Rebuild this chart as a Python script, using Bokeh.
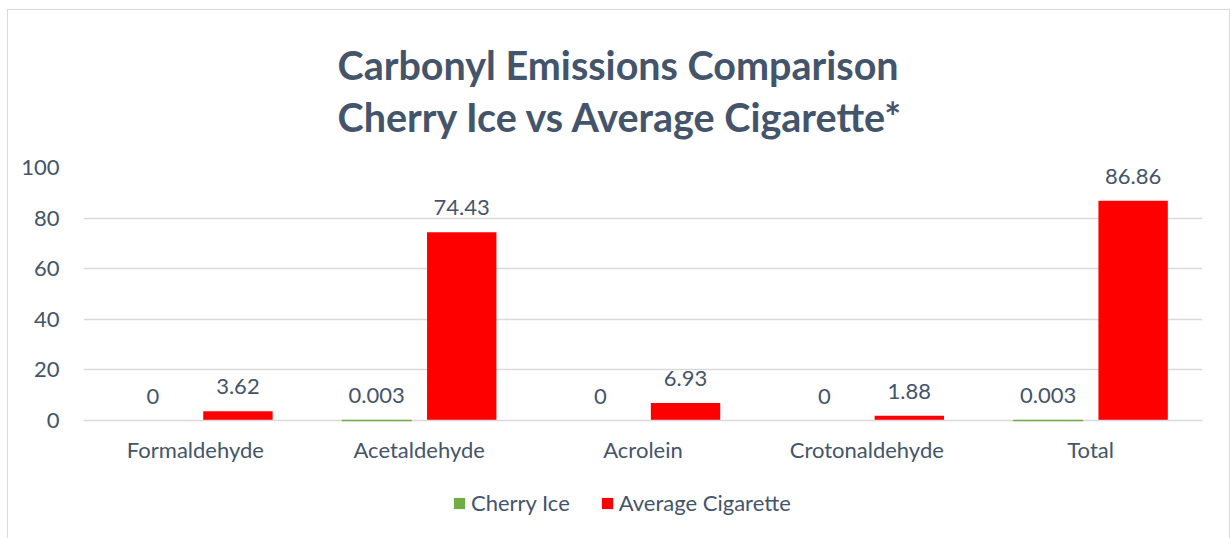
from bokeh.plotting import figure
from bokeh.layouts import column
from bokeh.models import ColumnDataSource, FactorRange, Legend, LegendItem, LabelSet, FixedTicker, Range1d
from bokeh.core.properties import value
from bokeh.transform import dodge
from bokeh.embed import file_html
from bokeh.resources import INLINE

categories = ["Formaldehyde", "Acetaldehyde", "Acrolein", "Crotonaldehyde", "Total"]
cherry_ice = [0, 0.003, 0, 0, 0.003]
avg_cig = [3.62, 74.43, 6.93, 1.88, 86.86]
cherry_labels = ["0", "0.003", "0", "0", "0.003"]
cig_labels = ["3.62", "74.43", "6.93", "1.88", "86.86"]
series_names = ["Cherry Ice", "Average Cigarette"]
y_ticks = [0, 20, 40, 60, 80, 100]

FONT = "Lato"
TXT = "#44546A"
GREEN = "#70AD47"
RED = "#FF0000"
GRID = "#D9D9D9"
FS = "22px"

src = ColumnDataSource(dict(
    cat=categories, ci=cherry_ice, cig=avg_cig,
    ci_lab=cherry_labels, cig_lab=cig_labels,
    ci_line=[1.0 if v > 0 else 0.0 for v in cherry_ice],
))

p = figure(
    width=1221, height=470,
    x_range=FactorRange(*categories, range_padding=0),
    y_range=(0, 100),
    output_backend="svg", toolbar_location=None,
    min_border_left=75, min_border_right=27,
    min_border_top=157, min_border_bottom=60,
)

p.title.text = "Carbonyl Emissions Comparison\nCherry Ice vs Average Cigarette*"
p.title.align = "left"
p.title.offset = 254
p.title.text_font = FONT
p.title.text_font_size = "39.5px"
p.title.text_font_style = "bold"
p.title.text_color = TXT
p.title.standoff = 54
p.title.text_line_height = 1.12

p.outline_line_color = None
p.background_fill_color = "white"
p.border_fill_color = "white"

r_ci = p.vbar(x=dodge("cat", -0.19, range=p.x_range), top="ci", width=0.31, source=src,
              fill_color=GREEN, line_color=GREEN, line_width=1.5, line_alpha="ci_line",
              level="overlay")
r_cig = p.vbar(x=dodge("cat", 0.19, range=p.x_range), top="cig", width=0.31, source=src,
               fill_color=RED, line_color=None)

lab_style = dict(text_font=value(FONT), text_font_size=value(FS), text_color=TXT,
                 text_align="center", text_baseline="bottom", y_offset=17, source=src)
p.add_layout(LabelSet(x=dodge("cat", -0.19, range=p.x_range), y="ci", text="ci_lab", **lab_style))
p.add_layout(LabelSet(x=dodge("cat", 0.19, range=p.x_range), y="cig", text="cig_lab", **lab_style))

p.yaxis.ticker = FixedTicker(ticks=y_ticks)
p.yaxis.axis_line_color = None
p.yaxis.major_tick_line_color = None
p.yaxis.minor_tick_line_color = None
p.yaxis.major_label_standoff = 18
p.yaxis.major_label_text_font = FONT
p.yaxis.major_label_text_font_size = FS
p.yaxis.major_label_text_color = TXT

p.xaxis.axis_line_color = GRID
p.xaxis.axis_line_width = 1.5
p.xaxis.major_tick_line_color = None
p.xaxis.minor_tick_line_color = None
p.xaxis.major_label_standoff = 9
p.xaxis.major_label_text_font = FONT
p.xaxis.major_label_text_font_size = FS
p.xaxis.major_label_text_color = TXT

p.xgrid.grid_line_color = None
p.ygrid.grid_line_color = GRID
p.ygrid.grid_line_width = 1.5

# legend strip below the chart (its proxy bars sit outside the visible y range)
q = figure(width=1221, height=58, x_range=FactorRange(*categories), y_range=Range1d(1000, 1001),
           x_axis_type=None, y_axis_type=None, output_backend="svg",
           toolbar_location=None, min_border=0, outline_line_color=None)
q.xgrid.visible = False
q.ygrid.visible = False
lg_ci = q.vbar(x="cat", top="ci", width=0.31, source=src, fill_color=GREEN, line_color=None)
lg_cig = q.vbar(x="cat", top="cig", width=0.31, source=src, fill_color=RED, line_color=None)
legend = Legend(items=[LegendItem(label=series_names[0], renderers=[lg_ci]),
                       LegendItem(label=series_names[1], renderers=[lg_cig])],
                orientation="horizontal", location=(369, 22),
                label_text_font=FONT, label_text_font_size=FS, label_text_color=TXT,
                glyph_width=14, glyph_height=14, spacing=30, label_standoff=5,
                border_line_color=None, background_fill_alpha=0, margin=0, padding=0)
q.add_layout(legend, "center")

layout = column(p, q, spacing=0)
layout.styles = {"margin-left": "7px", "margin-top": "9px",
                 "border-left": "1px solid #D9D9D9", "border-top": "1px solid #D9D9D9",
                 "border-right": "1px solid #D9D9D9"}

open("out.html", "w").write(file_html(layout, INLINE))
